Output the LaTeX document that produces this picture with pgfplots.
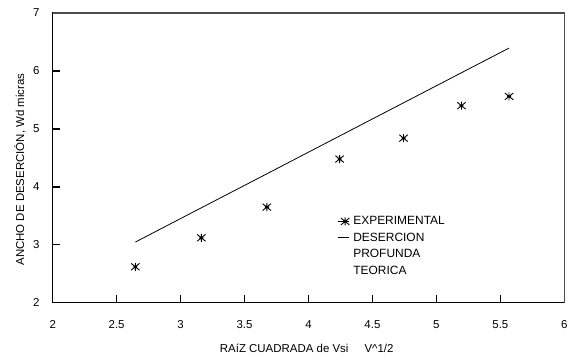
\documentclass[border=0pt]{standalone}
\usepackage{fontspec}
\setmainfont{Liberation Sans}
\usepackage{pgfplots}
\pgfplotsset{compat=1.18}
\pgfdeclareplotmark{xast}{%
  \pgfpathmoveto{\pgfqpoint{0pt}{\pgfplotmarksize}}%
  \pgfpathlineto{\pgfqpoint{0pt}{-\pgfplotmarksize}}%
  \pgfpathmoveto{\pgfqpoint{-1.05\pgfplotmarksize}{0.85\pgfplotmarksize}}%
  \pgfpathlineto{\pgfqpoint{1.05\pgfplotmarksize}{-0.85\pgfplotmarksize}}%
  \pgfpathmoveto{\pgfqpoint{-1.05\pgfplotmarksize}{-0.85\pgfplotmarksize}}%
  \pgfpathlineto{\pgfqpoint{1.05\pgfplotmarksize}{0.85\pgfplotmarksize}}%
  \pgfpathmoveto{\pgfqpoint{-0.5\pgfplotmarksize}{0pt}}%
  \pgfpathlineto{\pgfqpoint{0.5\pgfplotmarksize}{0pt}}%
  \pgfusepathqstroke}
\pgfplotsset{
  legmark/.style={legend image code/.code={\path (0bp,0bp) -- (11bp,0bp); \draw[##1] plot coordinates {(7.5bp,0bp)};}},
  legline/.style={legend image code/.code={\path (0bp,0bp) -- (11bp,0bp); \draw[##1] (0bp,0bp) -- (11bp,0bp);}},
}
\begin{document}
\begin{tikzpicture}
\useasboundingbox (-52.7bp,-57.3bp) rectangle (521.3bp,302.7bp);
\begin{axis}[
  at={(0,0)}, anchor=south west,
  scale only axis,
  width=511.6bp, height=289.7bp,
  xmin=2, xmax=6, ymin=2, ymax=7,
  xtick={2,2.5,...,6}, ytick={2,3,4,5,6,7},
  axis line style={black, line width=1.3bp},
  xtick pos=left, ytick pos=left,
  tick align=inside,
  major tick style={draw=black, line width=1.4bp},
  major tick length=7.5bp,
  unbounded coords=jump,
  /pgf/number format/assume math mode=true,
  xticklabel style={font=\fontsize{11.5}{13}\selectfont, inner sep=0pt, yshift=-18bp},
  yticklabel style={font=\fontsize{11.5}{13}\selectfont, inner sep=0pt, xshift=-13bp},
  legend style={at={(rel axis cs:0.5557,0.298)}, anchor=north west, draw=none, fill=none,
    font=\fontsize{12}{14}\selectfont, inner sep=0pt, row sep=6.6bp, column sep=4bp,
    nodes={inner sep=0pt}, cells={anchor=west}},
  legend cell align=left,
  clip=false,
]
% tick marks (inside)
\addplot[black, line width=1.4bp, forget plot] coordinates {
  (2.5,2) (2.5,2.13) (nan,nan) (3,2) (3,2.13) (nan,nan) (3.5,2) (3.5,2.13) (nan,nan)
  (4,2) (4,2.13) (nan,nan) (4.5,2) (4.5,2.13) (nan,nan) (5,2) (5,2.13) (nan,nan)
  (5.5,2) (5.5,2.13) (nan,nan) (6,2) (6,2.13) (nan,nan)
  (2,3) (2.0586,3) (nan,nan) (2,4) (2.0586,4) (nan,nan) (2,5) (2.0586,5) (nan,nan)
  (2,6) (2.0586,6) (nan,nan) (2,7) (2.0586,7)};
\addplot[only marks, mark=xast, mark size=4bp, black, line width=0.9bp, legmark]
  coordinates {
  (2.646,2.62) (3.162,3.12) (3.674,3.65) (4.243,4.48) (4.743,4.84) (5.196,5.40) (5.568,5.56)};
\addlegendentry{EXPERIMENTAL}
\addplot[black, line width=0.8bp, mark=none, legline]
  coordinates {
  (2.646,3.046) (3.162,3.638) (3.674,4.224) (4.243,4.877) (4.743,5.450) (5.196,5.969) (5.568,6.395)};
\addlegendentry{DESERCION}
\addlegendimage{empty legend}
\addlegendentry{PROFUNDA}
\addlegendimage{empty legend}
\addlegendentry{TEORICA}
\draw[gray!60!black, line width=1.5bp] (rel axis cs:0,1) -- (rel axis cs:1,1) -- (rel axis cs:1,0);
\end{axis}
\node[rotate=90, font=\fontsize{11.5}{13}\selectfont] at (-32.7bp,133.2bp) {ANCHO DE DESERCIÓN, Wd micras};
\node[font=\fontsize{11.5}{13}\selectfont] at (254bp,-45.3bp) {RAíZ CUADRADA de Vsi\hspace{16bp}V\textasciicircum 1/2};
\end{tikzpicture}
\end{document}
